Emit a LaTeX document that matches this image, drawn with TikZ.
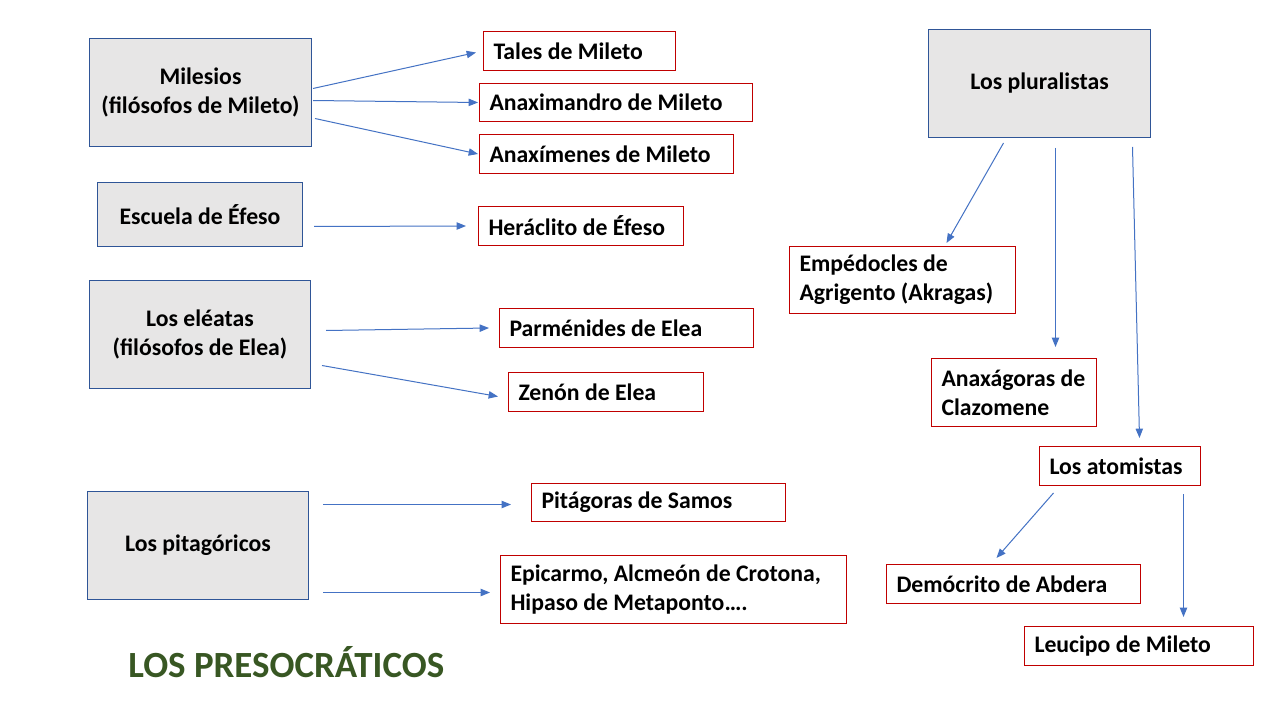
\documentclass[tikz,border=0pt]{standalone}
\usepackage{fontspec}
\setmainfont{Carlito}
\usepackage{tikz}
\usetikzlibrary{arrows.meta,positioning,calc}
\definecolor{frameblue}{HTML}{2F5597}
\definecolor{boxgray}{HTML}{E7E6E6}
\definecolor{namered}{HTML}{C00000}
\definecolor{arrowblue}{HTML}{4472C4}
\definecolor{titlegreen}{HTML}{385723}

\begin{document}
\begin{tikzpicture}[x=0.75pt,y=-0.75pt,>={Triangle[length=7pt,width=5.5pt]},
  font=\fontsize{17.8}{22}\selectfont\bfseries,
  school/.style={draw=frameblue,line width=0.75pt,fill=boxgray,anchor=north west,align=center,inner sep=0pt},
  thinker/.style={draw=namered,line width=0.75pt,fill=white,anchor=north west,align=flush left,inner xsep=7.5pt,inner ysep=0pt},
  arr/.style={->,arrowblue,line width=0.75pt}]
\useasboundingbox[fill=white] (0,0) rectangle (1280,720);
% schools
\node[school,minimum width=166.5pt,minimum height=81pt] (mil) at (89,38) {Milesios\\(filósofos de Mileto)};
\node[school,minimum width=153.75pt,minimum height=48pt] (efe) at (97,182) {Escuela de Éfeso};
\node[school,minimum width=165.75pt,minimum height=81pt] (ele) at (89,280) {Los eléatas\\(filósofos de Elea)};
\node[school,minimum width=165.75pt,minimum height=81pt] (pit) at (87,491) {Los pitagóricos};
\node[school,minimum width=166.5pt,minimum height=81pt] (plu) at (928,29) {Los pluralistas};
% philosophers
\node[thinker,text width=129pt,minimum height=29.25pt] (tal) at (483,31) {Tales de Mileto};
\node[thinker,text width=189.75pt,minimum height=28.5pt] (anm) at (479,83) {Anaximandro de Mileto};
\node[thinker,text width=175.5pt,minimum height=29.25pt] (axm) at (479,134) {Anaxímenes de Mileto};
\node[thinker,text width=138.75pt,minimum height=29.25pt] (her) at (478,206) {Heráclito de Éfeso};
\node[thinker,text width=175.5pt,minimum height=29.25pt] (par) at (499,308) {Parménides de Elea};
\node[thinker,text width=131.25pt,minimum height=29.25pt] (zen) at (508,372) {Zenón de Elea};
\node[thinker,text width=175.5pt,minimum height=28.5pt] (pts) at (531,483) {Pitágoras de Samos};
\node[thinker,text width=244.5pt,minimum height=51pt] (epi) at (500,555) {Epicarmo, Alcmeón de Crotona,\\Hipaso de Metaponto….};
\node[thinker,text width=154.5pt,minimum height=50.25pt] (emp) at (789,246) {Empédocles de\\Agrigento (Akragas)};
\node[thinker,text width=108.75pt,minimum height=51pt] (anx) at (931,358) {Anaxágoras de\\Clazomene};
\node[thinker,text width=105.75pt,minimum height=29.25pt] (ato) at (1039,446) {Los atomistas};
\node[thinker,text width=175.5pt,minimum height=29.25pt] (dem) at (886,564) {Demócrito de Abdera};
\node[thinker,text width=156.75pt,minimum height=29.25pt] (leu) at (1024,626) {Leucipo de Mileto};
% title
\node[anchor=west,inner sep=0pt,text=titlegreen,font=\fontsize{27.7}{33}\selectfont\bfseries] (title) at (128,662) {LOS PRESOCRÁTICOS};
% arrows
\draw[arr] ($(mil.east)+(1,-4)$) -- ($(tal.west)+(-7,1.5)$);
\draw[arr] ($(mil.east)+(1,8)$) -- ($(anm.west)+(-1,0)$);
\draw[arr] ($(mil.east)+(3,26)$) -- ($(axm.west)+(-1,0)$);
\draw[arr] ($(efe.east)+(11,12)$) -- ($(her.west)+(-12,0)$);
\draw[arr] ($(ele.east)+(15,-4)$) -- ($(par.west)+(-10,0)$);
\draw[arr] ($(ele.east)+(11,31)$) -- ($(zen.west)+(-10,4.5)$);
\draw[arr] ($(pit.east)+(14,-41)$) -- ($(pts.west)+(-20,2)$);
\draw[arr] ($(pit.east)+(14,47)$) -- ($(epi.west)+(-10,3)$);
\draw[arr] ($(plu.south)+(-36,5)$) -- ($(emp.north)+(44,-3)$);
\draw[arr] ($(plu.south)+(16,10)$) -- ($(anx.north)+(41.5,-11)$);
\draw[arr] ($(plu.south)+(93,9)$) -- ($(ato.north)+(19.5,-8)$);
\draw[arr] ($(ato.south)+(-66.5,7)$) -- ($(dem.north)+(-17,-6)$);
\draw[arr] ($(ato.south)+(63.5,8)$) -- ($(leu.north)+(44.5,-9)$);
\end{tikzpicture}
\end{document}
